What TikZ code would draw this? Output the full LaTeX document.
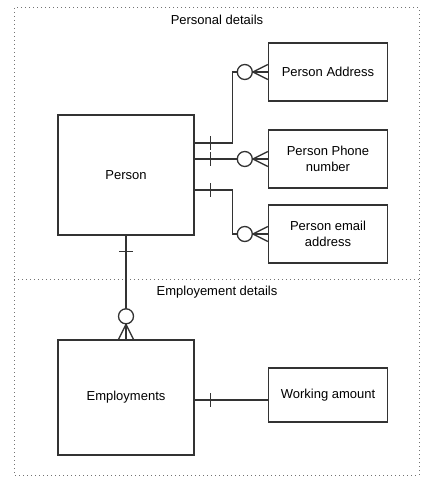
\documentclass[tikz,border=0pt]{standalone}
\usepackage{fontspec}
\setmainfont{Liberation Sans}
\usetikzlibrary{calc}
\definecolor{ln}{HTML}{333333}
\tikzset{
  ent/.style={draw=ln, line width=1.4pt, fill=white, align=center, inner sep=0pt, font=\fontsize{13}{16}\selectfont},
  conn/.style={draw=ln, line width=1.4pt},
  mk/.style={draw=ln, line width=1.3pt},
  grp/.style={draw=gray!90!black, line width=1pt, dash pattern=on 1pt off 3pt},
  lbl/.style={font=\fontsize{13}{16}\selectfont, inner sep=0pt},
}
\begin{document}
\begin{tikzpicture}[x=1pt,y=-1pt]
\useasboundingbox (0,0) rectangle (434,487);
% group frames
\draw[grp] (14,8) rectangle (419,475);
\draw[grp] (14,279) -- (419,279);
\node[lbl] (pd) at (217,20) {Personal details};
\node[lbl] (ed) at (217,292) {Employement details};
% entities
\node[ent, minimum width=136pt, minimum height=120pt] (person) at (126,175) {Person};
\node[ent, minimum width=119pt, minimum height=58pt] (addr) at (328,72) {Person Address};
\node[ent, minimum width=119pt, minimum height=58pt] (phone) at (328,159) {Person Phone\\number};
\node[ent, minimum width=119pt, minimum height=58pt] (email) at (328,234) {Person email\\address};
\node[ent, minimum width=136pt, minimum height=115pt] (emp) at (126,397.5) {Employments};
\node[ent, minimum width=119pt, minimum height=54pt] (work) at (328,395) {Working amount};
% connectors
\coordinate (s1) at ([yshift=32pt]person.east);
\coordinate (s2) at ([yshift=16pt]person.east);
\coordinate (s3) at ([yshift=-15pt]person.east);
\draw[conn] (s1) -- ++(38,0) |- (addr.west);
\draw[conn] (s2) -- (s2 -| phone.west);
\draw[conn] (s3) -- ++(38,0) |- (email.west);
\draw[conn] (person.south) -- (emp.north);
\coordinate (s4) at ($(work.west -| emp.east)+(0,5)$);
\draw[conn] (s4) -- (s4 -| work.west);
% one marks
\foreach \s in {s1,s2,s3,s4}{
  \draw[mk] ($(\s)+(16,-7)$) -- ($(\s)+(16,7)$);
}
\draw[mk] ($(person.south)+(-7,16)$) -- ($(person.south)+(7,16)$);
% zero-or-many marks
\foreach \t in {addr,phone,email}{
  \draw[mk] ($(\t.west)+(-15,0)$) -- ($(\t.west)+(0,-7.5)$);
  \draw[mk] ($(\t.west)+(-15,0)$) -- ($(\t.west)+(0,7.5)$);
  \draw[mk, fill=white] ($(\t.west)+(-23,0)$) circle (7.5);
}
\draw[mk] ($(emp.north)+(0,-15)$) -- ($(emp.north)+(-7.5,0)$);
\draw[mk] ($(emp.north)+(0,-15)$) -- ($(emp.north)+(7.5,0)$);
\draw[mk, fill=white] ($(emp.north)+(0,-23)$) circle (7.5);
\end{tikzpicture}
\end{document}
